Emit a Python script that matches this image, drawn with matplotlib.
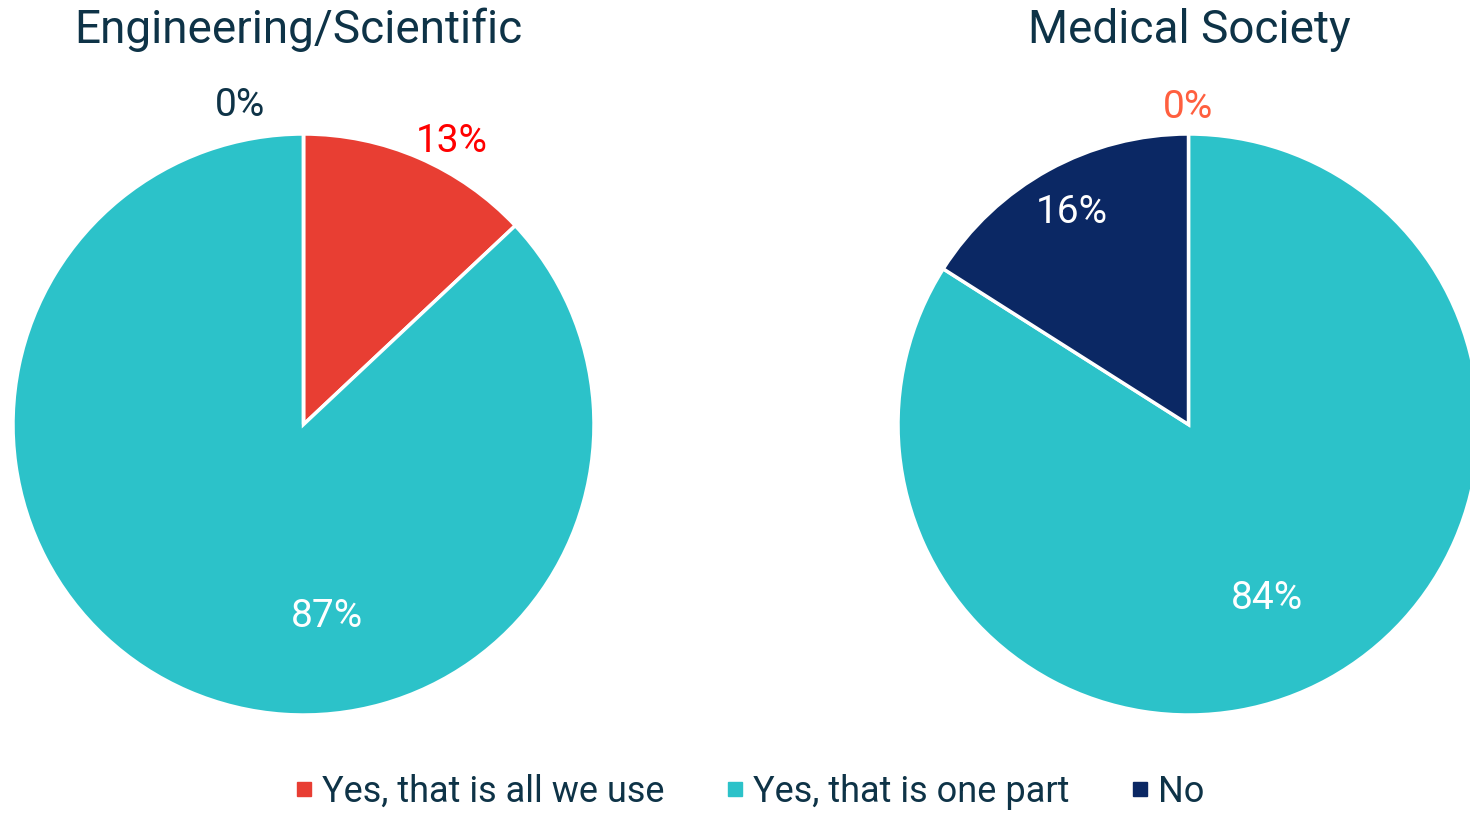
import matplotlib
matplotlib.use("Agg")
import matplotlib.pyplot as plt
from matplotlib.lines import Line2D

plt.rcParams['font.family'] = ['Roboto', 'DejaVu Sans']

# data
categories = ['Yes, that is all we use', 'Yes, that is one part', 'No']
groups = ['Engineering/Scientific', 'Medical Society']
eng_values = [13, 87, 0]
med_values = [0, 84, 16]

colors = ['#E83E33', '#2CC2C9', '#0B2864']
text_dark = '#0E3347'

# label placement (pie units) and colours per slice
eng_label_pos = [(0.51, 0.975), (0.08, -0.662), (-0.22, 1.097)]
med_label_pos = [(0.0, 1.09), (0.27, -0.60), (-0.40, 0.73)]
eng_label_col = ['#FF0000', 'white', text_dark]
med_label_col = ['#FF5F3F', 'white', 'white']

fig = plt.figure(figsize=(14.7, 8.13), dpi=100)

axes_rects = [
    [13 / 1470, 98 / 813, 581 / 1470, 581 / 813],
    [898 / 1470, 98 / 813, 581 / 1470, 581 / 813],
]
title_x = [298 / 1470, 1189 / 1470]

for rect, tx, title, vals, lpos, lcol in zip(
        axes_rects, title_x, groups, [eng_values, med_values],
        [eng_label_pos, med_label_pos], [eng_label_col, med_label_col]):
    ax = fig.add_axes(rect)
    ax.pie(vals, colors=colors, startangle=90, counterclock=False, radius=1,
           wedgeprops=dict(edgecolor='white', linewidth=2.5), normalize=True)
    ax.set_xlim(-1, 1)
    ax.set_ylim(-1, 1)
    ax.set_aspect('equal')
    ax.axis('off')
    for v, (x, y), c in zip(vals, lpos, lcol):
        ax.text(x, y, f'{v}%', color=c, fontsize=28, ha='center', va='center',
                clip_on=False)
    fig.text(tx, 1 - 30 / 813, title, color=text_dark, fontsize=33,
             ha='center', va='center')

handles = [Line2D([0], [0], marker='s', linestyle='none', markersize=10.5,
                  markerfacecolor=c, markeredgecolor=c) for c in colors]
fig.legend(handles, categories, loc='center', bbox_to_anchor=(0.51, 1 - 792 / 813),
           ncol=3, frameon=False, fontsize=26, handletextpad=0.25,
           columnspacing=1.7, labelcolor=text_dark, handlelength=0.5,
           borderpad=0.1)

fig.savefig('out.png', dpi=100)
